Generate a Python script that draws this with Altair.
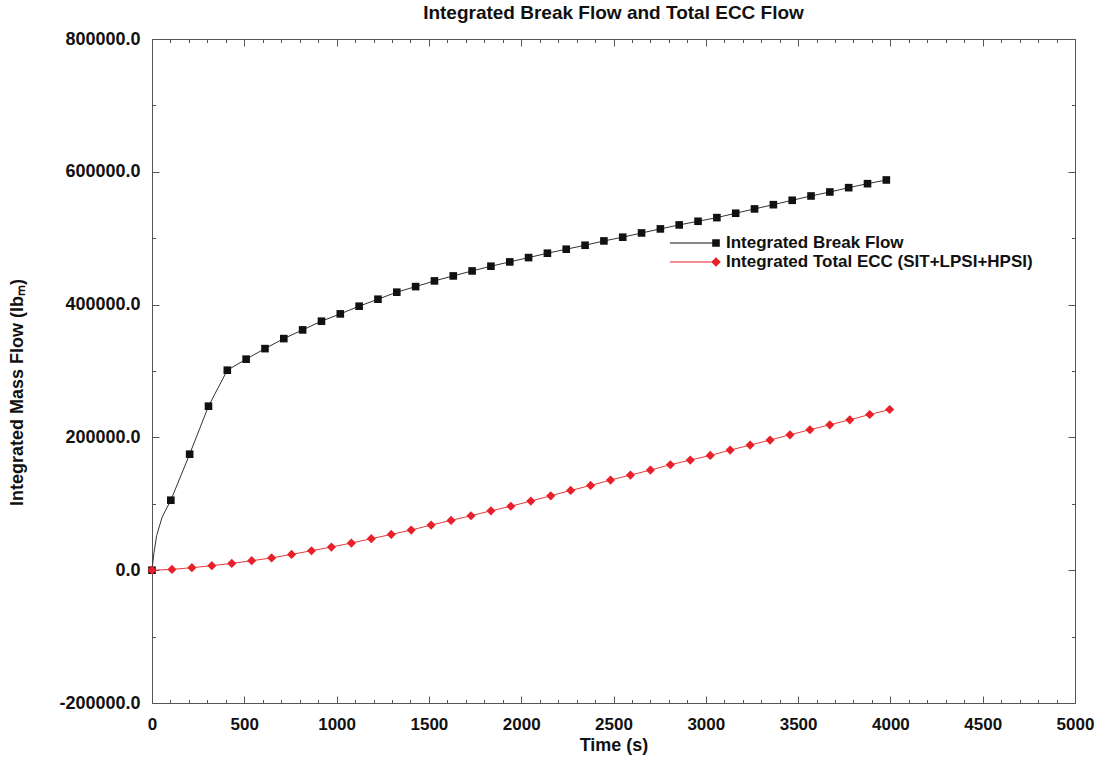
import altair as alt
import pandas as pd

FONT = "Liberation Sans"
W, H = 923, 664

# ---- data ----
break_t = [0, 102, 204, 306, 408, 510, 612, 714, 816, 918, 1020, 1122, 1224, 1326, 1428,
           1530, 1632, 1734, 1836, 1938, 2040, 2142, 2244, 2346, 2448, 2550, 2652, 2754,
           2856, 2958, 3060, 3162, 3264, 3366, 3468, 3570, 3672, 3774, 3876, 3978]
break_v = [0, 105400, 174700, 247000, 301200, 317800, 333700, 348800, 361900, 375000,
           386000, 397600, 408100, 418700, 427100, 435700, 443200, 450700, 457800, 464300,
           470800, 477400, 483400, 489400, 495900, 501500, 507900, 514000, 520000, 525500,
           531000, 537600, 544100, 550500, 557100, 563600, 569600, 576100, 582100, 587700]
# extra points on the break-flow curve (no markers) near the start
break_line_extra_t = [10, 25, 55]
break_line_extra_v = [25000, 52000, 80000]

ecc_t = [0, 108, 216, 324, 432, 540, 648, 756, 864, 972, 1080, 1188, 1296, 1404, 1512,
         1620, 1728, 1836, 1944, 2052, 2160, 2268, 2376, 2484, 2592, 2700, 2808, 2916,
         3024, 3132, 3240, 3348, 3456, 3564, 3672, 3780, 3888, 3996]
ecc_v = [0, 1200, 3800, 6800, 10200, 14300, 18400, 23800, 29300, 34900, 40900, 47400,
         53900, 60500, 68000, 75000, 82000, 89500, 96300, 104100, 112100, 120100, 127600,
         135800, 143300, 150800, 158800, 165800, 172800, 180900, 188400, 196000, 203900,
         211500, 219000, 226500, 234500, 242000]

series_names = ["Integrated Break Flow", "Integrated Total ECC (SIT+LPSI+HPSI)"]
series_colors = ["#111111", "#e8202a"]

x_major = [0, 500, 1000, 1500, 2000, 2500, 3000, 3500, 4000, 4500, 5000]
x_minor = [v for v in range(0, 5001, 100) if v % 500 != 0]
y_major = [-200000, 0, 200000, 400000, 600000, 800000]
y_minor = [-100000, 100000, 300000, 500000, 700000]

# ---- tables ----
break_df = pd.DataFrame({"t": break_t, "v": break_v})
ecc_df = pd.DataFrame({"t": ecc_t, "v": ecc_v})
break_line_df = pd.concat(
    [break_df, pd.DataFrame({"t": break_line_extra_t, "v": break_line_extra_v})]
).sort_values("t")
legend_df = pd.DataFrame({"t": [0, 0], "v": [0, 0], "series": series_names})

xs = alt.Scale(domain=[0, 5000], nice=False, zero=False)
ys = alt.Scale(domain=[-200000, 800000], nice=False, zero=False)

common = dict(grid=False, domain=False, tickColor="#555555", tickWidth=1,
              labelFont=FONT, labelFontWeight="bold", labelColor="#111111",
              labelFlush=False,
              titleFont=FONT, titleFontSize=18, titleFontWeight="bold", titleColor="#111111")


def tick_axis(orient, offset, values, size):
    return alt.Axis(orient=orient, offset=offset, values=values, labels=False,
                    tickSize=size, title=None, **common)


x_axes = [
    alt.Axis(orient="bottom", values=x_major, format="d", ticks=False, labelPadding=13,
             labelFontSize=17,
             title="Time (s)", titleY=33, titleBaseline="top", **common),
    tick_axis("top", -H, x_major, 7),
    tick_axis("top", -H, x_minor, 3.5),
    tick_axis("bottom", -H, x_major, 7),
    tick_axis("bottom", -H, x_minor, 3.5),
]
y_axes = [
    alt.Axis(orient="left", values=y_major, ticks=False, labelPadding=12, labelFontSize=18,
             labelExpr="datum.value < 0 ? '-' + format(-datum.value, '.1f') : format(datum.value, '.1f')",
             title="Integrated Mass Flow (lbₘ)", titleX=-126, titleY=353, **common),
    tick_axis("right", -W, y_major, 7),
    tick_axis("right", -W, y_minor, 3.5),
    tick_axis("left", -W, y_major, 7),
    tick_axis("left", -W, y_minor, 3.5),
]


def enc(i):
    return dict(x=alt.X("t:Q", scale=xs, axis=x_axes[i]),
                y=alt.Y("v:Q", scale=ys, axis=y_axes[i]))


line_break = alt.Chart(break_line_df).mark_line(color="#333333", strokeWidth=1).encode(**enc(0))
line_ecc = alt.Chart(ecc_df).mark_line(color="#e83a3a", strokeWidth=1).encode(**enc(1))
pts_break = alt.Chart(break_df).mark_point(shape="square", filled=True, size=58,
                                           color="#111111", opacity=1).encode(**enc(2))
pts_ecc = alt.Chart(ecc_df).mark_point(shape="diamond", filled=True, size=85,
                                       color="#e8202a", opacity=1).encode(**enc(3))

sym_square = ("M-4.6,-0.05L0,-0.05L0,0.05L-4.6,0.05Z"
              "M-0.38,-0.38L0.38,-0.38L0.38,0.38L-0.38,0.38Z")
sym_diamond = ("M-4.6,-0.05L0,-0.05L0,0.05L-4.6,0.05Z"
               "M0,-0.48L0.48,0L0,0.48L-0.48,0Z")

leg = alt.Legend(orient="none", legendX=554, legendY=194, title=None, padding=0,
                 labelFont=FONT, labelFontSize=17, labelFontWeight="bold",
                 labelColor="#111111", labelOffset=0, symbolSize=400,
                 symbolStrokeWidth=0, rowPadding=1, symbolOpacity=1, labelLimit=600)

legend_layer = alt.Chart(legend_df).mark_point(filled=True, opacity=0).encode(
    **enc(4),
    color=alt.Color("series:N", scale=alt.Scale(domain=series_names, range=series_colors),
                    legend=leg),
    shape=alt.Shape("series:N", scale=alt.Scale(domain=series_names,
                                                range=[sym_square, sym_diamond]),
                    legend=leg),
)

chart = (
    alt.layer(line_break, line_ecc, pts_break, pts_ecc, legend_layer)
    .resolve_axis(x="independent", y="independent")
    .properties(
        width=W, height=H,
        autosize=alt.AutoSizeParams(type="none"),
        padding={"left": 152, "top": 39, "right": 28, "bottom": 57},
        title=alt.TitleParams(text="Integrated Break Flow and Total ECC Flow", font=FONT,
                              fontSize=19, fontWeight="bold", color="#111111",
                              anchor="middle", offset=7),
        background="white",
    )
    .configure_view(stroke="#555555", strokeWidth=1)
)

chart.save("out.html", embed_options={"renderer": "svg", "actions": False})
